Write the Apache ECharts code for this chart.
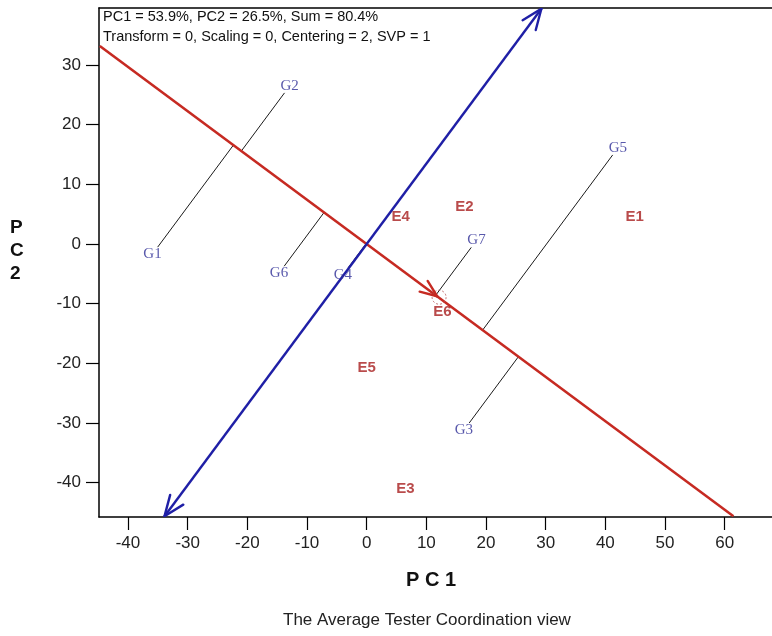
<!DOCTYPE html>
<html>
<head>
<meta charset="utf-8">
<script src="https://cdn.jsdelivr.net/npm/echarts@6/dist/echarts.min.js"></script>
<style>
  html, body { margin: 0; padding: 0; background: #fff; }
  #chart { width: 772px; height: 636px; }
</style>
</head>
<body>
<div id="chart"></div>
<script>
// tick labels
const xTicks = [-40, -30, -20, -10, 0, 10, 20, 30, 40, 50, 60]
const yTicks = [-40, -30, -20, -10, 0, 10, 20, 30]

// genotypes (blue labels)
const genotypes = ['G1', 'G2', 'G3', 'G4', 'G5', 'G6', 'G7']
const genoX = [-35.9, -12.9, 16.3, -4.0, 42.1, -14.7, 18.4]
const genoY = [-1.7, 26.5, -31.2, -5.2, 16.1, -4.9, 0.6]

// environments (red labels)
const envs = ['E1', 'E2', 'E3', 'E4', 'E5', 'E6']
const envX = [44.9, 16.4, 6.5, 5.7, 0.0, 12.7]
const envY = [4.5, 6.2, -41.0, 4.5, -20.7, -11.3]

// average environment (arrow on the ATC abscissa)
const avgEnv = [11.8, -8.76]

const xRange = [-44.86, 67.93]
const yRange = [-45.77, 39.56]

const RED = '#c62a22'
const BLUE = '#1f1fa6'

const chart = echarts.init(document.getElementById('chart'))

const aLen = Math.hypot(avgEnv[0], avgEnv[1])
const u = [avgEnv[0] / aLen, avgEnv[1] / aLen]   // ATC abscissa direction
const v = [-u[1], u[0]]                          // ATC ordinate direction

// point where a ray from the origin leaves the plot box
function clipRay(d) {
    let tx = d[0] > 0 ? xRange[1] / d[0] : xRange[0] / d[0]
    let ty = d[1] > 0 ? yRange[1] / d[1] : yRange[0] / d[1]
    let t = Math.min(tx, ty) * 0.997
    return [d[0] * t, d[1] * t]
}

// open arrow head (two strokes) at pixel tip, pointing away from "from"
function arrowHead(tip, from, size, color, width) {
    let dx = tip[0] - from[0], dy = tip[1] - from[1]
    let l = Math.hypot(dx, dy)
    dx /= l; dy /= l
    let out = []
    ;[0.38, -0.38].forEach(a => {
        let c = Math.cos(a), s = Math.sin(a)
        let rx = dx * c - dy * s, ry = dx * s + dy * c
        out.push({
            type: 'line',
            shape: { x1: tip[0], y1: tip[1], x2: tip[0] - rx * size, y2: tip[1] - ry * size },
            style: { stroke: color, lineWidth: width, lineCap: 'round' }
        })
    })
    return out
}

function renderAxes(params, api) {
    let o = api.coord([0, 0])
    let r1 = api.coord(clipRay([-u[0], -u[1]]))
    let r2 = api.coord(clipRay(u))
    let b1 = api.coord(clipRay([-v[0], -v[1]]))
    let b2 = api.coord(clipRay(v))
    let ae = api.coord(avgEnv)
    let children = [
        {
            type: 'line',
            shape: { x1: r1[0], y1: r1[1], x2: r2[0], y2: r2[1] },
            style: { stroke: RED, lineWidth: 2.6 }
        },
        {
            type: 'line',
            shape: { x1: b1[0], y1: b1[1], x2: b2[0], y2: b2[1] },
            style: { stroke: BLUE, lineWidth: 2.4 }
        },
        {
            type: 'circle',
            shape: { cx: ae[0] + 2, cy: ae[1] + 1, r: 7 },
            style: { fill: 'none', stroke: '#b05050', lineWidth: 0.8, lineDash: [2, 2] }
        }
    ]
    children = children
        .concat(arrowHead(b2, o, 22, BLUE, 2.4))
        .concat(arrowHead(b1, o, 22, BLUE, 2.4))
        .concat(arrowHead(ae, o, 18, RED, 2.4))
    return { type: 'group', children: children }
}

// thin black line from a genotype to the ATC abscissa, stopped at its label
function renderProjection(params, api) {
    let p = [api.value(0), api.value(1)]
    let dot = p[0] * u[0] + p[1] * u[1]
    let pf = api.coord([u[0] * dot, u[1] * dot])
    let pp = api.coord(p)
    let dx = pf[0] - pp[0], dy = pf[1] - pp[1]
    let l = Math.hypot(dx, dy)
    dx /= l; dy /= l
    let t = Math.min(9 / Math.abs(dx || 1e-6), 7 / Math.abs(dy || 1e-6))
    return {
        type: 'line',
        shape: { x1: pf[0], y1: pf[1], x2: pp[0] + dx * t, y2: pp[1] + dy * t },
        style: { stroke: '#000', lineWidth: 0.9 }
    }
}

const axisText = { color: '#222', fontFamily: 'Liberation Sans', fontSize: 17 }

chart.setOption({
    animation: false,
    backgroundColor: '#fff',
    grid: { left: 99, top: 8, right: 0, bottom: 119 },
    xAxis: [
        {
            type: 'value',
            position: 'bottom',
            min: xRange[0], max: xRange[1],
            splitLine: { show: false },
            axisLine: { show: true, onZero: false, lineStyle: { color: '#000', width: 1.5 } },
            axisTick: { show: true, length: 13, customValues: xTicks, lineStyle: { color: '#000', width: 1.2 } },
            axisLabel: Object.assign({ customValues: xTicks, margin: 18 }, axisText)
        },
        {
            // top frame line only
            type: 'value',
            position: 'top',
            min: xRange[0], max: xRange[1],
            splitLine: { show: false },
            axisLine: { show: true, onZero: false, lineStyle: { color: '#000', width: 1.5 } },
            axisTick: { show: false },
            axisLabel: { show: false }
        }
    ],
    yAxis: {
        type: 'value',
        min: yRange[0], max: yRange[1],
        splitLine: { show: false },
        axisLine: { show: true, onZero: false, lineStyle: { color: '#000', width: 1.5 } },
        axisTick: { show: true, length: 13, customValues: yTicks, lineStyle: { color: '#000', width: 1.2 } },
        axisLabel: Object.assign({ customValues: yTicks, margin: 18 }, axisText)
    },
    graphic: [
        {
            type: 'text', left: 103, top: 9,
            style: { text: 'PC1 = 53.9%, PC2 = 26.5%, Sum = 80.4%', fill: '#111', font: '14.5px "Liberation Sans"' }
        },
        {
            type: 'text', left: 103, top: 29,
            style: { text: 'Transform = 0, Scaling = 0, Centering = 2, SVP = 1', fill: '#111', font: '14.5px "Liberation Sans"' }
        },
        {
            type: 'text', left: 406, top: 570,
            style: { text: 'P C 1', fill: '#111', font: 'bold 20px "Liberation Sans"' }
        },
        {
            type: 'text', left: 10, top: 216,
            style: { text: 'P\nC\n2', fill: '#111', font: 'bold 19px "Liberation Sans"', lineHeight: 23 }
        },
        {
            type: 'text', left: 283, top: 612,
            style: { text: 'The Average Tester Coordination view', fill: '#222', font: '17px "Liberation Sans"' }
        }
    ],
    series: [
        {
            type: 'custom',
            clip: true,
            z: 2,
            data: genotypes.map((g, i) => [genoX[i], genoY[i]]),
            renderItem: renderProjection
        },
        {
            type: 'custom',
            clip: true,
            z: 3,
            data: [avgEnv],
            renderItem: renderAxes
        },
        {
            type: 'scatter',
            z: 4,
            symbolSize: 1,
            itemStyle: { color: 'rgba(0,0,0,0)' },
            data: genotypes.map((g, i) => ({ name: g, value: [genoX[i], genoY[i]] })),
            label: {
                show: true, position: 'inside', formatter: '{b}',
                color: '#2e2e96', fontFamily: 'Liberation Serif', fontSize: 15
            }
        },
        {
            type: 'scatter',
            z: 4,
            symbolSize: 1,
            itemStyle: { color: 'rgba(0,0,0,0)' },
            data: envs.map((e, i) => ({ name: e, value: [envX[i], envY[i]] })),
            label: {
                show: true, position: 'inside', formatter: '{b}',
                color: '#a81e1e', fontFamily: 'Liberation Sans', fontWeight: 'bold', fontSize: 15
            }
        }
    ]
})
</script>
</body>
</html>
